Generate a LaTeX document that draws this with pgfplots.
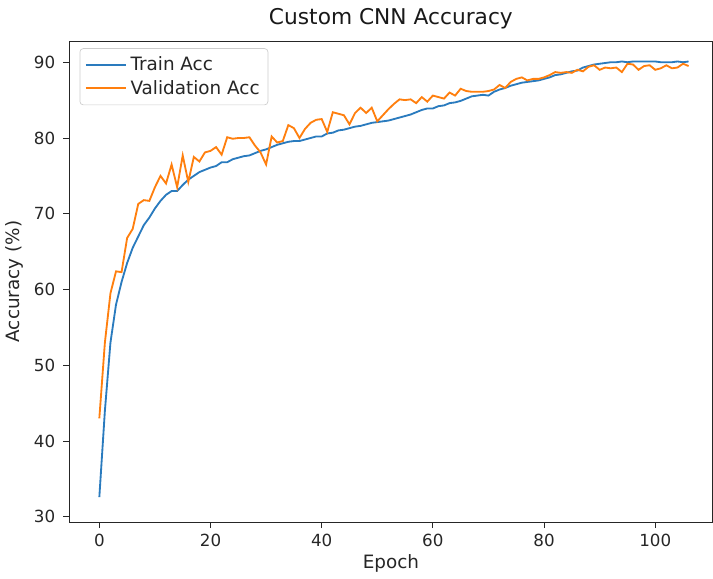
\documentclass[border=0pt]{standalone}
\usepackage{pgfplots}
\pgfplotsset{compat=1.18}
\usepackage{fontspec}
\setmainfont{DejaVu Sans}

\definecolor{trainblue}{HTML}{2A7BBE}
\definecolor{valorange}{HTML}{FF7F0E}

\begin{document}
\begin{tikzpicture}
\begin{axis}[
  scale only axis,
  width=385pt, height=288pt,
  xmin=-5.4, xmax=110.3,
  ymin=29.3, ymax=92.8,
  xtick={0,20,40,60,80,100},
  ytick={30,40,50,60,70,80,90},
  tick align=outside,
  tick pos=left,
  major tick length=3.6pt,
  tick style={black!85, line width=0.5pt},
  axis line style={line width=0.6pt, black!85},
  tick label style={font=\fontsize{10}{12}\selectfont, text=black!85},
  yticklabel style={xshift=-1.3pt},
  /pgf/number format/assume math mode=true,
  title={Custom CNN Accuracy},
  title style={font=\fontsize{13}{15}\selectfont, text=black!90, inner ysep=5pt, yshift=-4pt},
  xlabel={Epoch},
  ylabel={Accuracy (\%)},
  label style={font=\fontsize{11}{13}\selectfont, text=black!85},
  xlabel style={yshift=2pt},
  ylabel style={yshift=-0.5pt},
  every axis plot/.append style={line width=1.1pt},
  legend style={font=\fontsize{11}{13}\selectfont, draw=black!20, rounded corners=2pt,
    inner sep=3pt, row sep=0pt, at={(0.016,0.985)}, anchor=north west, text=black!85},
  legend cell align=left,
  legend image code/.code={\draw[#1] plot coordinates {(0cm,0cm) (0.85cm,0cm)};},
]
\addplot[color=trainblue] coordinates {
(0,32.6)(1,44)(2,53)(3,58)(4,61)(5,63.5)(6,65.5)(7,67)(8,68.5)(9,69.5)
(10,70.7)(11,71.7)(12,72.5)(13,73)(14,73)(15,73.8)(16,74.5)(17,75)(18,75.5)(19,75.8)
(20,76.1)(21,76.3)(22,76.8)(23,76.8)(24,77.2)(25,77.4)(26,77.6)(27,77.7)(28,78)(29,78.3)
(30,78.5)(31,78.8)(32,79.1)(33,79.3)(34,79.5)(35,79.6)(36,79.6)(37,79.8)(38,80)(39,80.2)
(40,80.2)(41,80.6)(42,80.7)(43,81)(44,81.1)(45,81.3)(46,81.5)(47,81.6)(48,81.8)(49,82)
(50,82.1)(51,82.2)(52,82.3)(53,82.5)(54,82.7)(55,82.9)(56,83.1)(57,83.4)(58,83.7)(59,83.9)
(60,83.9)(61,84.2)(62,84.3)(63,84.6)(64,84.7)(65,84.9)(66,85.2)(67,85.5)(68,85.6)(69,85.7)
(70,85.6)(71,86.1)(72,86.4)(73,86.6)(74,86.9)(75,87.1)(76,87.3)(77,87.4)(78,87.5)(79,87.6)
(80,87.8)(81,88)(82,88.3)(83,88.4)(84,88.6)(85,88.8)(86,88.9)(87,89.3)(88,89.5)(89,89.7)
(90,89.8)(91,89.9)(92,90)(93,90)(94,90.1)(95,90)(96,90.1)(97,90.1)(98,90.1)(99,90.1)
(100,90.1)(101,90)(102,90)(103,90)(104,90.1)(105,90)(106,90.1)
};
\addlegendentry{Train Acc}
\addplot[color=valorange] coordinates {
(0,43)(1,53)(2,59.5)(3,62.4)(4,62.3)(5,66.8)(6,68)(7,71.3)(8,71.8)(9,71.7)
(10,73.5)(11,75)(12,74)(13,76.5)(14,73.5)(15,77.7)(16,74.2)(17,77.5)(18,76.9)(19,78.1)
(20,78.3)(21,78.8)(22,77.8)(23,80.1)(24,79.9)(25,80)(26,80)(27,80.1)(28,79)(29,78.1)
(30,76.5)(31,80.2)(32,79.4)(33,79.6)(34,81.7)(35,81.3)(36,80)(37,81.2)(38,82)(39,82.4)
(40,82.5)(41,80.8)(42,83.4)(43,83.2)(44,83)(45,81.8)(46,83.3)(47,84)(48,83.3)(49,84)
(50,82.2)(51,83)(52,83.8)(53,84.5)(54,85.1)(55,85)(56,85.1)(57,84.6)(58,85.4)(59,84.8)
(60,85.6)(61,85.4)(62,85.2)(63,86)(64,85.6)(65,86.5)(66,86.2)(67,86.1)(68,86.1)(69,86.1)
(70,86.2)(71,86.4)(72,87)(73,86.6)(74,87.4)(75,87.8)(76,88)(77,87.6)(78,87.8)(79,87.8)
(80,88)(81,88.3)(82,88.7)(83,88.6)(84,88.7)(85,88.6)(86,89)(87,88.8)(88,89.4)(89,89.6)
(90,89)(91,89.3)(92,89.2)(93,89.3)(94,88.7)(95,89.8)(96,89.7)(97,89)(98,89.5)(99,89.6)
(100,89)(101,89.2)(102,89.6)(103,89.2)(104,89.3)(105,89.8)(106,89.5)
};
\addlegendentry{Validation Acc}
\end{axis}
\end{tikzpicture}
\end{document}
